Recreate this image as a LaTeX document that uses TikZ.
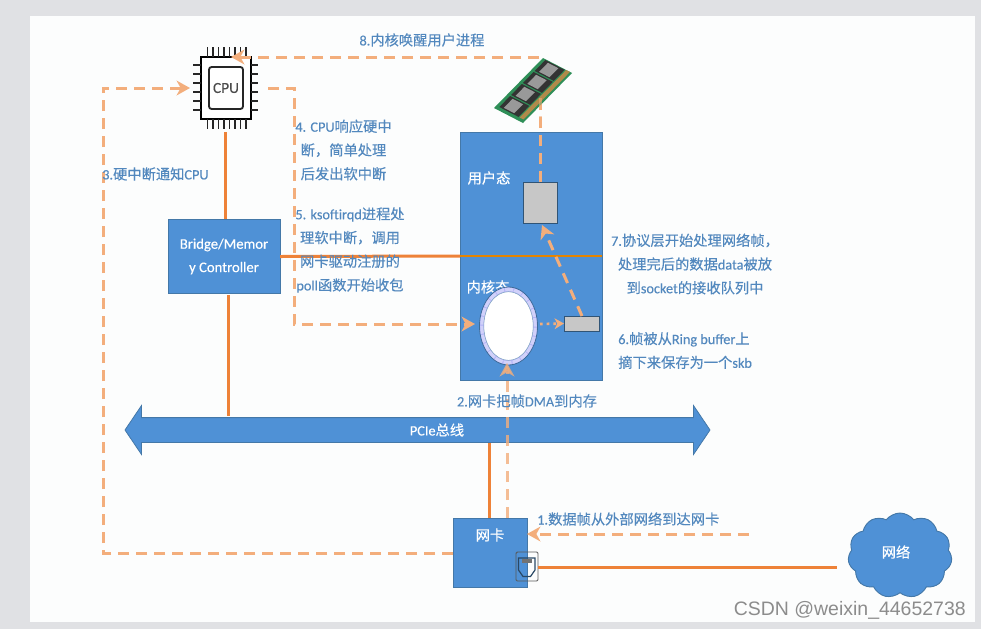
\documentclass[tikz,border=0pt]{standalone}
\usepackage{fontspec}
\setmainfont[FakeBold=0.25]{Carlito}
\newfontfamily\cjk[FakeBold=0.25]{Noto Sans CJK SC}
\newfontfamily\wm{Liberation Sans}
\newcommand\Z[1]{{\cjk #1}}
\usetikzlibrary{arrows.meta,shapes.geometric,shapes.arrows,shapes.symbols}
\definecolor{bluefill}{HTML}{4F91D6}
\definecolor{blueedge}{HTML}{4478A8}
\definecolor{solidor}{HTML}{EE8238}
\definecolor{dashor}{HTML}{F3AE7C}
\definecolor{txt}{HTML}{5288BE}
\definecolor{panel}{HTML}{FCFDFD}
\definecolor{outer}{HTML}{E0E1E4}
\definecolor{ramgreen}{HTML}{2F8F58}
\definecolor{ramgold}{HTML}{B08A4A}
\tikzset{
 block/.style={draw=blueedge,line width=0.6pt,fill=bluefill,text=white,inner sep=0pt,outer sep=0pt,font=\fontsize{11pt}{17.5pt}\selectfont,align=center},
 graybox/.style={draw=blueedge!70!black,line width=0.5pt,fill=black!22,inner sep=0pt,outer sep=0pt},
 solidline/.style={draw=solidor,line width=2.25pt},
 flow/.style={draw=dashor,line width=2.25pt,dash pattern=on 8pt off 5.5pt},
 flowhead/.style={-{Stealth[length=10pt,width=11pt,inset=3pt,fill=dashor]}},
 lab/.style={text=txt,inner sep=0pt,font=\fontsize{10.7pt}{17.8pt}\selectfont},
 white label/.style={text=white,inner sep=0pt,font=\fontsize{10.7pt}{13pt}\selectfont},
 pin/.style={line width=1.3pt,draw=black!85},
 ringpart/.style={ellipse,inner sep=0pt,outer sep=0pt},
}
\newcommand\MP[2]{({494+49*(#1)+29*(#2)},{108-50*(#1)+15*(#2)})}
\begin{document}
\begin{tikzpicture}[x=0.75pt,y=-0.75pt]
\useasboundingbox (0,0) rectangle (981,629);
\fill[outer] (0,0) rectangle (981,629);
\fill[panel] (30,16) rectangle (975,622);

% coordinates of free corners and ends
\coordinate (c3a) at (103,553);
\coordinate (c3b) at (103,88);
\coordinate (c3e) at (190,88);
\coordinate (c4s) at (268,88);
\coordinate (c4a) at (294,88);
\coordinate (c4b) at (294,324);
\coordinate (c4e) at (475,324);
\coordinate (c8a) at (540,57);
\coordinate (c8e) at (231,57);
\coordinate (c1) at (749,534);
\coordinate (linkend) at (837,567);

% memory block and contents
\node[block,minimum width=106.5pt,minimum height=186pt] (mem) at (531,256) {};
\node[white label] (user) at (489,178) {\Z{用户态}};
\node[white label] (kern) at (488,287) {\Z{内核态}};
\node[graybox,minimum width=25.5pt,minimum height=30.75pt] (sockbox) at (540,202.5) {};
\node[graybox,minimum width=26.25pt,minimum height=11.25pt] (skb) at (581.5,323.5) {};
\node[ringpart,draw=blueedge!90!black,fill=black!10!blue!30!white,line width=0.6pt,minimum width=43.5pt,minimum height=58.5pt] (ring) at (508.5,326) {};
\node[ringpart,draw=black!10!blue!18!white,line width=2.4pt,dash pattern=on 6pt off 0.8pt,minimum width=40pt,minimum height=55pt] at (508.5,326) {};
\node[ringpart,draw=blueedge!70,line width=0.4pt,fill=white,minimum width=37pt,minimum height=51.5pt] at (508.5,326) {};

% bridge, cpu, nic
\node[block,minimum width=84pt,minimum height=55.5pt] (bridge) at (224,256.5) {Bridge/Memor\\y Controller};
\node[draw=black,line width=1.6pt,fill=white,minimum width=37.5pt,minimum height=46.5pt,inner sep=0pt,outer sep=0pt] (cpu) at (225.7,88) {};
\node[draw=black!85,line width=1.4pt,rounded corners=2pt,minimum width=25.5pt,minimum height=31.5pt,inner sep=0pt,font=\fontsize{11.5pt}{12pt}\selectfont,text=black!70] (cpuin) at (226,88) {CPU};
\foreach \x in {207.5,213,218.5,224,229.5,235,240.5,246}{
  \draw[pin] (\x,47) -- (\x,57);
  \draw[pin] (\x,119) -- (\x,129);
}
\foreach \y in {65,74,83,92,101,110}{
  \draw[pin] (193,\y) -- (201,\y);
  \draw[pin] (251,\y) -- (258,\y);
}
\node[block,minimum width=55.5pt,minimum height=51.75pt] (nic) at (490,552.5) {};
\node[white label] (niclab) at (490,535) {\Z{网卡}};
\node[draw=black!65,line width=0.7pt,rounded corners=1pt,minimum width=16.5pt,minimum height=21.75pt,inner sep=0pt,outer sep=0pt] (port) at (527,566.5) {};
\draw[blueedge!60!black,line width=0.9pt] (518.5,558) -- (535,558) -- (535,570) -- (530.5,576.5) -- (523,576.5) -- (518.5,570) -- cycle;
\fill[black!55] (522,558.5) rectangle (532,563);
\node[cloud,cloud puffs=11,cloud puff arc=105,aspect=1.25,draw=blueedge,fill=bluefill,line width=0.7pt,minimum width=78pt,minimum height=63.75pt,inner sep=0pt,outer sep=0pt] (net) at (900,555.5) {};
\node[white label] (netlab) at (896,552) {\Z{网络}};

% solid connectors
\draw[solidline] (225,132) -- (225,219);
\draw[solidline] (228.5,295) -- (228.5,416);
\draw[solidline] (bridge.east) -- (mem.west);
\draw[draw=orange!85!yellow!90!black,line width=1.8pt] (mem.west) -- (mem.east);
\draw[solidline] (489,440) -- (489,518);
\draw[solidline] (538,567) -- (linkend);

% dashed flows
\draw[flow,flowhead] (nic.west |- c3a) -- (c3a) -- (c3b) -- (c3e);
\draw[flow,flowhead] (c4s) -- (c4a) -- (c4b) -- (c4e);
\draw[flow,flowhead] (sockbox.north) -- (c8a) -- (c8e);
\draw[flow,flowhead] (skb.north) ++(0.5,0) -- (542,225);
\draw[dashor,line width=2pt,dash pattern=on 2pt off 3pt,-{Stealth[length=7pt,width=8pt,inset=2pt,fill=dashor]}] (540,324) -- (skb.west);
\draw[flow,flowhead] (c1) -- (527,534);

% memory stick
\fill[ramgreen] \MP{0}{0} -- \MP{1}{0} -- \MP{1}{1} -- \MP{0}{1} -- cycle;
\foreach \a in {0.05,0.29,0.53,0.77}{
  \fill[black!80] \MP{\a}{0.1} -- \MP{\a+0.22}{0.1} -- \MP{\a+0.22}{0.76} -- \MP{\a}{0.76} -- cycle;
  \fill[black!40] \MP{\a+0.02}{0.22} -- \MP{\a+0.2}{0.22} -- \MP{\a+0.2}{0.58} -- \MP{\a+0.02}{0.58} -- cycle;
}
\fill[ramgold] \MP{0.05}{0.8} -- \MP{1}{0.8} -- \MP{1}{0.93} -- \MP{0.05}{0.93} -- cycle;
\draw[flow,opacity=0.55] (540,98) -- (540,120);

% bus
\node[double arrow,double arrow head extend=9pt,double arrow tip angle=112,double arrow head indent=0pt,minimum height=438.75pt,minimum width=36pt,draw=blueedge,fill=bluefill,line width=0.6pt,inner sep=0pt,outer sep=0pt] (bus) at (417.5,430) {\rule{0pt}{18pt}};
\node[white label] (buslab) at (437,430) {PCIe\Z{总线}};
\draw[flow,flowhead,opacity=0.8] (nic.north -| 507,0) -- (507,363);

% labels
\node[lab] (l8) at (422,40) {8.\Z{内核唤醒用户进程}};
\node[lab,anchor=west] (l3) at (102,174) {3.\Z{硬中断通知}CPU};
\node[lab,align=center] (l4) at (343.5,150) {4. CPU\Z{响应硬中}\\\Z{断，简单处理}\\\Z{后发出软中断}};
\node[lab,align=center] (l5) at (350,250) {5. ksoftirqd\Z{进程处}\\\Z{理软中断，调用}\\\Z{网卡驱动注册的}\\poll\Z{函数开始收包}};
\node[lab,align=center] (l7) at (695,264) {7.\Z{协议层开始处理网络帧，}\\\Z{处理完后的数据}data\Z{被放}\\\Z{到}socket\Z{的接收队列中}};
\node[lab,align=left,anchor=west] (l6) at (618,350.5) {6.\Z{帧被从}Ring buffer\Z{上}\\\Z{摘下来保存为一个}skb};
\node[lab] (l2) at (527,401) {2.\Z{网卡把帧}DMA\Z{到内存}};
\node[lab,anchor=west] (l1) at (537,519) {1.\Z{数据帧从外部网络到达网卡}};
\node[inner sep=0pt,anchor=east,text=black!45,font=\wm\fontsize{14.6pt}{15pt}\selectfont] (wm) at (966,610) {CSDN @weixin\_44652738};
\end{tikzpicture}
\end{document}
